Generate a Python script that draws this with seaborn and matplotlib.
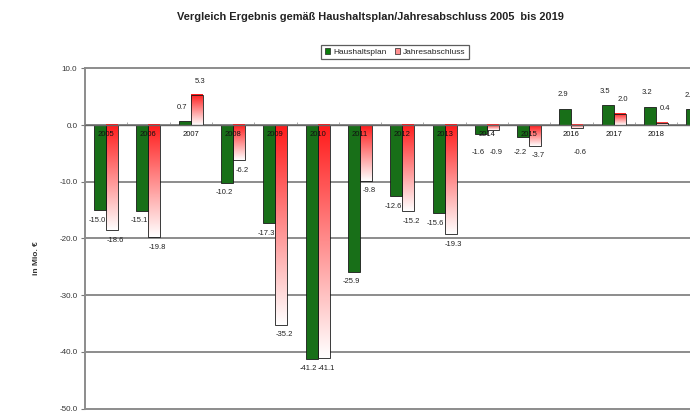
import numpy as np
import pandas as pd
import seaborn as sns
import matplotlib.pyplot as plt
from matplotlib.colors import LinearSegmentedColormap
from matplotlib.patches import Patch

years = ['2005', '2006', '2007', '2008', '2009', '2010', '2011', '2012',
         '2013', '2014', '2015', '2016', '2017', '2018', '2019']
haushaltsplan = [-15.0, -15.1, 0.7, -10.2, -17.3, -41.2, -25.9, -12.6,
                 -15.6, -1.6, -2.2, 2.9, 3.5, 3.2, 2.8]
# 2019 Jahresabschluss is outside the visible picture
jahresabschluss = [-18.6, -19.8, 5.3, -6.2, -35.2, -41.1, -9.8, -15.2,
                   -19.3, -0.9, -3.7, -0.6, 2.0, 0.4, np.nan]
series = ['Haushaltsplan', 'Jahresabschluss']

df = pd.DataFrame({
    'Jahr': years * 2,
    'Art': [series[0]] * len(years) + [series[1]] * len(years),
    'Wert': haushaltsplan + jahresabschluss,
})

sns.set_style('white')
plt.rcParams['font.family'] = ['Liberation Sans', 'DejaVu Sans']

fig = plt.figure(figsize=(6.9, 4.12), dpi=100)
ax = fig.add_axes([85 / 690, 3.5 / 412, 634.5 / 690, 340.2 / 412])

green = '#0a7d0a'
sns.barplot(data=df, x='Jahr', y='Wert', hue='Art', order=years,
            palette=[green, '#ff2020'], width=0.567, dodge=True,
            edgecolor='#1a1a1a', linewidth=0.6, legend=False, ax=ax, zorder=3)

# gradient fill for Jahresabschluss bars: red at top, white at bottom
cmap = LinearSegmentedColormap.from_list('rw', ['#ffffff', '#ff1a1a'])
grad = np.linspace(0, 1, 256).reshape(-1, 1)
for patch in ax.containers[1]:
    h = patch.get_height()
    if np.isnan(h):
        continue
    x0, y0, w = patch.get_x(), patch.get_y(), patch.get_width()
    lo, hi = min(y0, y0 + h), max(y0, y0 + h)
    ax.imshow(grad, cmap=cmap, origin='lower', aspect='auto',
              extent=[x0, x0 + w, lo, hi], zorder=2.9, interpolation='bilinear')
    patch.set_facecolor('none')
ax.set_xlim(-0.5, len(years) - 0.5)
ax.set_ylim(-50, 10)

# value labels (Excel pushes small negative labels below the year labels)
for cont, vals, shift in zip(ax.containers, [haushaltsplan, jahresabschluss], [-0.07, 0.07]):
    for patch, v in zip(cont, vals):
        if np.isnan(v):
            continue
        xc = patch.get_x() + patch.get_width() / 2 + shift
        if v >= 0:
            ax.annotate(f'{v:.1f}', (xc, v), xytext=(0, 10), textcoords='offset points',
                        ha='center', va='center', fontsize=5.5, color='#222222', zorder=5)
        else:
            ax.annotate(f'{v:.1f}', (xc, min(v, -3.0)), xytext=(0, -7.2),
                        textcoords='offset points', ha='center', va='center',
                        fontsize=5.5, color='#222222', zorder=5)

# year labels sit just under the zero line, on top of the bars
for i, yr in enumerate(years):
    ax.annotate(yr, (i, 0), xytext=(0, -7), textcoords='offset points',
                ha='center', va='center', fontsize=5.5, color='#111111', zorder=6)

# axes styling
ax.set_yticks(np.arange(-50, 11, 10))
ax.set_yticklabels([f'{t:.1f}' for t in np.arange(-50, 11, 10)], fontsize=5.8, color='#333333')
ax.yaxis.grid(True, color='#8c8c8c', linewidth=1.4, zorder=0)
for line in ax.get_ygridlines():
    line.set_clip_on(False)
ax.set_axisbelow(True)
ax.tick_params(axis='y', length=3, width=0.8, color='#777777', pad=2.5, left=True)

ax.spines['bottom'].set_position(('data', 0))
ax.spines['bottom'].set_color('#666666')
ax.spines['bottom'].set_linewidth(1.0)
ax.spines['bottom'].set_zorder(4)
ax.spines['left'].set_color('#8c8c8c')
ax.spines['left'].set_linewidth(1.4)
ax.spines['top'].set_visible(False)
ax.spines['right'].set_visible(False)

ax.set_xticks(range(len(years)))
ax.set_xticklabels([])
ax.tick_params(axis='x', which='major', length=0)
ax.set_xticks(np.arange(-0.5, len(years), 1), minor=True)
ax.tick_params(axis='x', which='minor', length=2.5, direction='in',
               color='#999999', width=0.6, bottom=True)
ax.set_xlabel('')
ax.set_ylabel('')

fig.text(370 / 690, 1 - 17 / 412, 'Vergleich Ergebnis gemäß Haushaltsplan/Jahresabschluss 2005  bis 2019',
         ha='center', va='center', fontsize=7.9, fontweight='bold', color='#222222')
fig.text(37 / 690, 1 - 258 / 412, 'in Mio. €', rotation=90, ha='center', va='center',
         fontsize=6, fontweight='bold', color='#333333')

handles = [Patch(facecolor=green, edgecolor='#222222', linewidth=0.5),
           Patch(facecolor='#ff9090', edgecolor='#222222', linewidth=0.5)]
leg = fig.legend(handles, series, loc='center', bbox_to_anchor=(395 / 690, 1 - 52 / 412),
                 ncol=2, fontsize=6, frameon=True, fancybox=False, handlelength=0.7,
                 handleheight=0.7, handletextpad=0.3, columnspacing=1.0, borderpad=0.4)
leg.get_frame().set_edgecolor('#333333')
leg.get_frame().set_linewidth(0.9)

fig.savefig('out.png', dpi=100)
